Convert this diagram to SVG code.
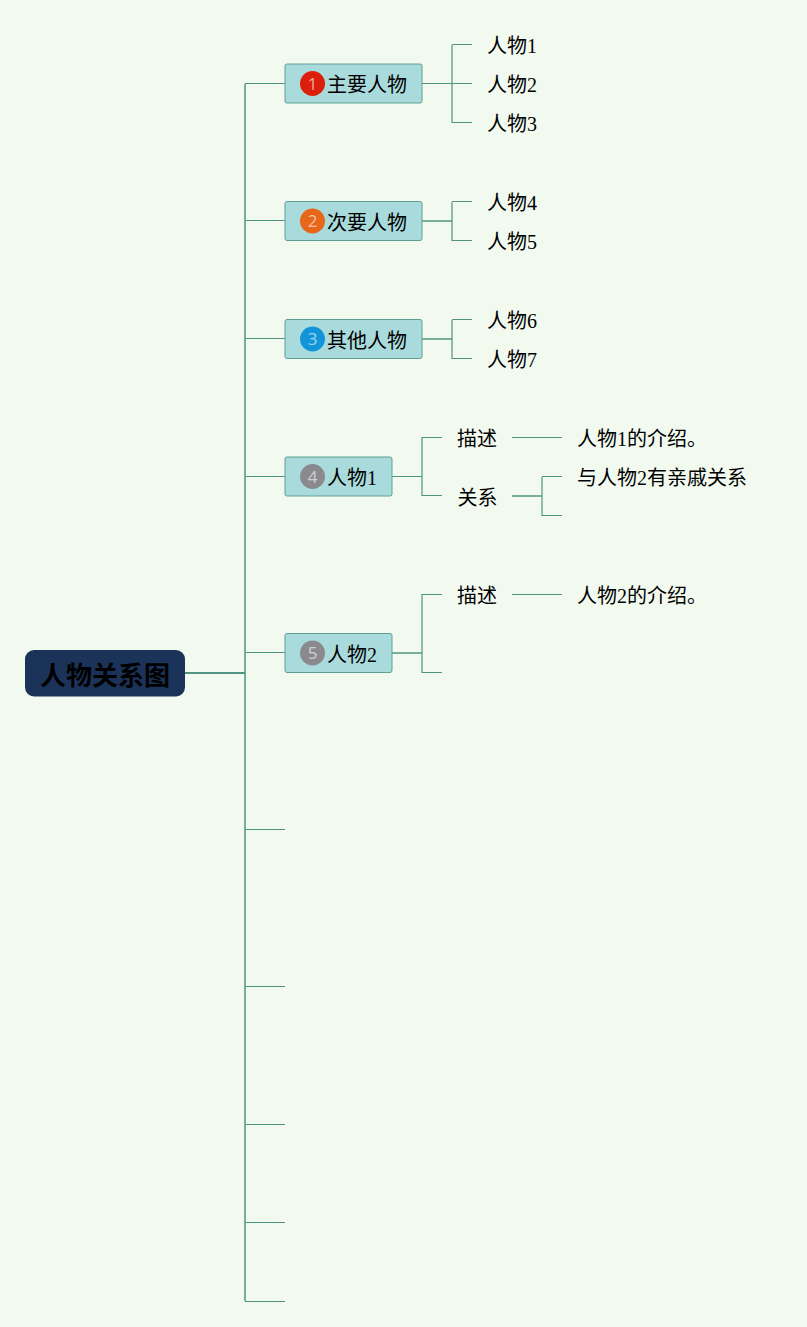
<svg xmlns="http://www.w3.org/2000/svg" width="807" height="1327" viewBox="0 0 807 1327">
<style>
.c{fill:none;stroke:#4f9480;stroke-width:1}
.v{fill:none;stroke:#6fa995;stroke-width:1.500}
.t{font-family:"Liberation Serif","Noto Sans CJK SC",serif;font-size:20px;fill:#000}
.b{fill:#a9dbdc;stroke:#5f9f92;stroke-width:1}
.n{font-family:"Open Sans","Noto Sans CJK SC",sans-serif;font-size:17px;text-anchor:middle;fill:#fff;fill-opacity:.6}
</style>
<rect width="807" height="1327" fill="#f2faf0"/>
<g id="connectors" class="conns">
<path class="c" style="stroke-width:2" d="M185 673H245"/>
<path class="c" style="stroke-width:1.500" d="M245 84V1301"/>
<path class="c" d="M245 83.500H285M245 220.500H285M245 338.500H285M245 476.500H285M245 652.500H285M245 829.500H285M245 986.500H285M245 1124.500H285M245 1222.500H285M245 1301.500H285"/>
<path class="v" d="M452 45V123M452 202V241M452 320V359M422 437V496M542 477V516M422 594V673"/>
<path class="c" d="M422 83.500H472M452 44.500H472M452 122.500H472"/>
<path class="c" style="stroke-width:1.500" d="M422 221H452"/>
<path class="c" d="M452 201.500H472M452 240.500H472"/>
<path class="c" style="stroke-width:1.500" d="M422 339H452"/>
<path class="c" d="M452 319.500H472M452 358.500H472"/>
<path class="c" d="M392 476.500H422M422 437.500H442M422 495.500H442M512 437.500H562"/>
<path class="c" style="stroke-width:1.500" d="M512 496H542"/>
<path class="c" d="M542 476.500H562M542 515.500H562"/>
<path class="c" style="stroke-width:1.500" d="M392 653H422"/>
<path class="c" d="M422 594.500H442M422 672.500H442M512 594.500H562"/>
</g>
<g id="root"><rect x="25" y="650" width="160" height="46.500" rx="9" fill="#1b3358"/><text x="40" y="685" font-family="Liberation Sans,Noto Sans CJK SC,sans-serif" font-size="26" font-weight="700" fill="#000">人物关系图</text></g>
<g id="n1"><rect class="b" x="285" y="64" width="137" height="39" rx="2"/><circle cx="312.500" cy="83.500" r="12.500" fill="#dc1f0c"/><text class="n" x="312.500" y="89.500">1</text><text class="t" x="327" y="92">主要人物</text></g>
<g id="n2"><rect class="b" x="285" y="201.500" width="137" height="39" rx="2"/><circle cx="312.500" cy="221" r="12.500" fill="#e8661a"/><text class="n" x="312.500" y="227">2</text><text class="t" x="327" y="229.500">次要人物</text></g>
<g id="n3"><rect class="b" x="285" y="319.500" width="137" height="39" rx="2"/><circle cx="312.500" cy="339" r="12.500" fill="#1295d8"/><text class="n" x="312.500" y="345">3</text><text class="t" x="327" y="347.500">其他人物</text></g>
<g id="n4"><rect class="b" x="285" y="457" width="107" height="39" rx="2"/><circle cx="312.500" cy="476.500" r="12.500" fill="#8a8a8e"/><text class="n" x="312.500" y="482.500">4</text><text class="t" x="327" y="485">人物1</text></g>
<g id="n5"><rect class="b" x="285" y="633.500" width="107" height="39" rx="2"/><circle cx="312.500" cy="653" r="12.500" fill="#8a8a8e"/><text class="n" x="312.500" y="659">5</text><text class="t" x="327" y="661.500">人物2</text></g>
<g id="l1"><text class="t" x="487" y="53">人物1</text></g>
<g id="l2"><text class="t" x="487" y="92">人物2</text></g>
<g id="l3"><text class="t" x="487" y="131">人物3</text></g>
<g id="l4"><text class="t" x="487" y="210">人物4</text></g>
<g id="l5"><text class="t" x="487" y="249">人物5</text></g>
<g id="l6"><text class="t" x="487" y="328">人物6</text></g>
<g id="l7"><text class="t" x="487" y="367">人物7</text></g>
<g id="d1"><text class="t" x="457" y="446">描述</text></g>
<g id="r1"><text class="t" x="457.500" y="505">关系</text></g>
<g id="d1t"><text class="t" x="577" y="446">人物1的介绍。</text></g>
<g id="r1t"><text class="t" x="577" y="485">与人物2有亲戚关系</text></g>
<g id="d2"><text class="t" x="457" y="603">描述</text></g>
<g id="d2t"><text class="t" x="577" y="603">人物2的介绍。</text></g>
</svg>
